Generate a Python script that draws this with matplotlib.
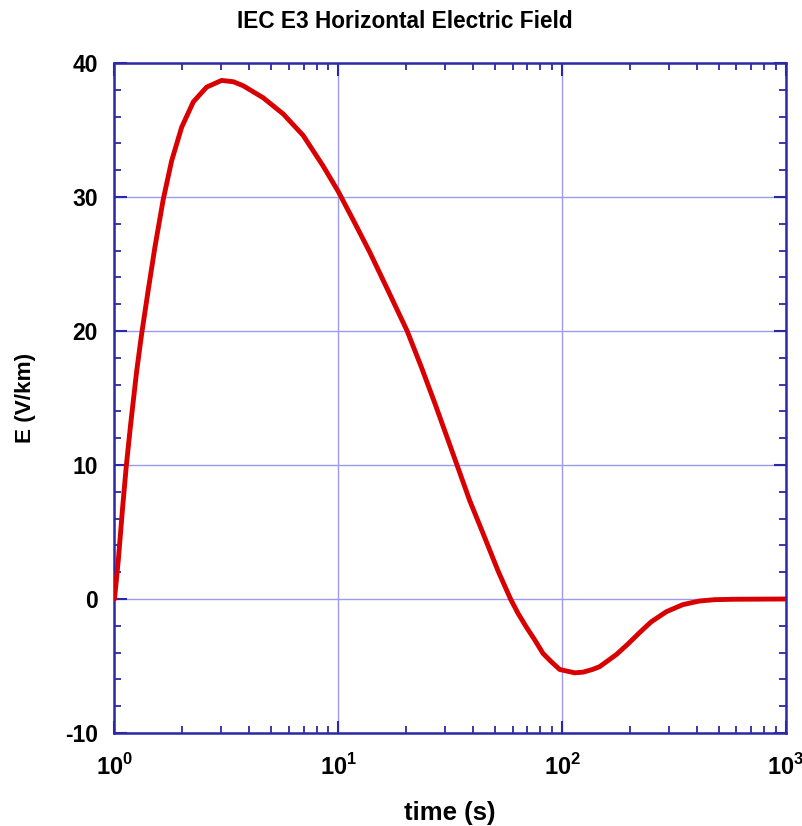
import matplotlib.pyplot as plt
from matplotlib.ticker import FixedLocator, MultipleLocator, LogLocator, FixedFormatter

plt.rcParams['font.family'] = ['Liberation Sans', 'DejaVu Sans']
plt.rcParams['font.weight'] = 'bold'
plt.rcParams['axes.unicode_minus'] = False
plt.rcParams['mathtext.fontset'] = 'custom'
plt.rcParams['mathtext.rm'] = 'Liberation Sans:bold'
plt.rcParams['mathtext.bf'] = 'Liberation Sans:bold'

# values
time_s = [1.0, 1.04, 1.088, 1.13, 1.18, 1.256, 1.32, 1.416, 1.517, 1.65,
          1.80, 1.995, 2.25, 2.58, 3.01, 3.4, 3.76, 4.62, 5.67, 6.96, 8.56,
          10.0, 11.85, 13.8, 16.7, 20.3, 23.5, 27.0, 33.9, 38.6, 44.4, 51.7,
          58.8, 63.5, 69.2, 75.4, 82.1, 89.5, 97.5, 113.7, 124.0, 137.0,
          147.0, 174.5, 197.0, 222.0, 250.0, 292.0, 346.0, 411.0, 480.0,
          577.0, 1000.0]
e_field = [0.0, 2.9, 6.9, 10.0, 13.0, 17.0, 19.7, 23.1, 26.3, 29.8,
           32.7, 35.2, 37.1, 38.2, 38.7, 38.6, 38.3, 37.4, 36.2, 34.6, 32.3,
           30.4, 28.05, 25.9, 23.0, 20.0, 17.3, 14.6, 10.0, 7.36, 4.86, 2.1,
           0.0, -1.07, -2.1, -3.05, -4.06, -4.69, -5.26, -5.51, -5.46, -5.25,
           -5.05, -4.15, -3.35, -2.5, -1.7, -0.95, -0.42, -0.15, -0.05,
           -0.02, 0.0]

x_ticks = [1, 10, 100, 1000]
x_ticklabels = [r'$10^{0}$', r'$10^{1}$', r'$10^{2}$', r'$10^{3}$']
y_ticks = [-10, 0, 10, 20, 30, 40]

axis_blue = '#2a2aa8'
grid_blue = '#9a9aee'

fig = plt.figure(figsize=(8.03, 8.26), dpi=100)
ax = fig.add_axes([114.5 / 803, 1 - 733 / 826, (786 - 114.5) / 803, (733 - 63) / 826])

ax.plot(time_s, e_field, color='#d80000', linewidth=3.5,
        solid_capstyle='round', solid_joinstyle='round', zorder=3)

ax.set_xscale('log')
ax.set_xlim(1, 1000)
ax.set_ylim(-10, 40)

ax.xaxis.set_major_locator(FixedLocator(x_ticks))
ax.xaxis.set_major_formatter(FixedFormatter(x_ticklabels))
ax.xaxis.set_minor_locator(LogLocator(base=10, subs=range(2, 10)))
ax.xaxis.set_minor_formatter(FixedFormatter([]))
ax.yaxis.set_major_locator(FixedLocator(y_ticks))
ax.yaxis.set_minor_locator(MultipleLocator(2))

ax.grid(True, which='major', color=grid_blue, linewidth=1.0)
ax.set_axisbelow(True)

for s in ax.spines.values():
    s.set_color(axis_blue)
    s.set_linewidth(1.8)

ax.tick_params(which='both', direction='in', top=True, right=True, color=axis_blue)
ax.tick_params(which='major', length=9, width=1.5)
ax.tick_params(which='minor', length=5, width=1.3)
ax.tick_params(axis='y', which='major', labelsize=16.5, pad=12)
ax.tick_params(axis='x', which='major', labelsize=17, pad=15)
for lbl in ax.get_yticklabels():
    lbl.set_fontweight('bold')

ax.set_xlabel('time (s)', fontsize=18.5, fontweight='bold', labelpad=15)
ax.set_ylabel('E (V/km)', fontsize=16.2, fontweight='bold', labelpad=21)

fig.text(405 / 803, 1 - 21 / 826, 'IEC E3 Horizontal Electric Field',
         ha='center', va='center', fontsize=16.3, fontweight='bold')

fig.savefig('out.png', dpi=100)
